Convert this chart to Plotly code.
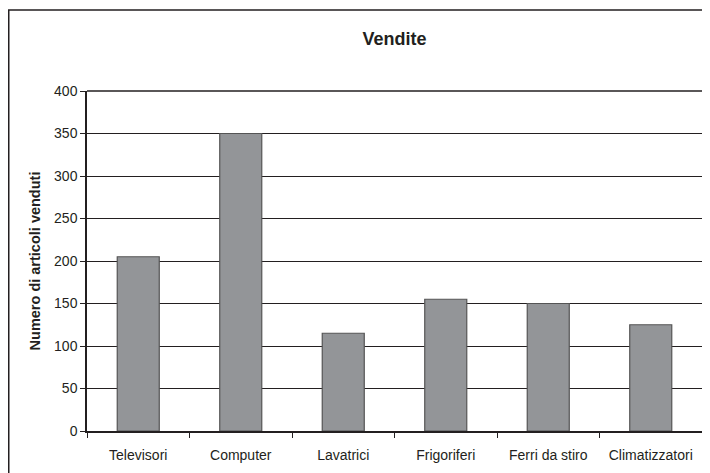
import plotly.graph_objects as go

categories = ["Televisori", "Computer", "Lavatrici", "Frigoriferi", "Ferri da stiro", "Climatizzatori"]
values = [205, 350, 115, 155, 150, 125]
y_ticks = [0, 50, 100, 150, 200, 250, 300, 350, 400]

# The page body has an 8px margin; the figure is sized to fit the window.
W, H = 702, 465
L, T, R, B = 79, 83, 6, 42

fig = go.Figure(go.Bar(
    x=categories, y=values,
    marker=dict(color="#939598", line=dict(color="#555555", width=1.2)),
    width=0.41,
))

font = "Liberation Sans, Arial, sans-serif"
pw = W - L - R
ph = H - T - B
fig.update_layout(
    width=W, height=H,
    margin=dict(l=L, r=R, t=T, b=B),
    paper_bgcolor="white", plot_bgcolor="white",
    showlegend=False,
    title=dict(text="<b>Vendite</b>", x=0.5, xref="paper", xanchor="center",
               y=1 - 31 / H, yanchor="middle",
               font=dict(family=font, size=18, color="#231f20")),
    font=dict(family=font, size=14, color="#231f20"),
    xaxis=dict(
        type="category", tickson="boundaries", ticks="outside", ticklen=5,
        tickcolor="#231f20", showline=True, linecolor="#231f20", linewidth=1.5,
        showgrid=False, tickfont=dict(size=14), ticklabelstandoff=10,
    ),
    yaxis=dict(
        range=[0, 400], tickvals=y_ticks, ticks="outside", ticklen=5,
        tickcolor="#231f20", showline=True, linecolor="#231f20", linewidth=1.5,
        mirror=True, showgrid=True, gridcolor="#231f20", gridwidth=1,
        zeroline=False, tickfont=dict(size=14),
        title=dict(text="<b>Numero di articoli venduti</b>", standoff=10,
                   font=dict(size=14.5)),
    ),
    shapes=[
        dict(type="rect", xref="paper", yref="paper",
             x0=(0.5 - L) / pw, x1=1.2, y0=-0.5, y1=1 + (T - 2) / ph,
             line=dict(color="#231f20", width=1.5), layer="below"),
        dict(type="line", xref="paper", yref="paper", x0=0, x1=1, y0=1, y1=1,
             line=dict(color="#231f20", width=1.5)),
    ],
)

fig.write_html("out.html")
